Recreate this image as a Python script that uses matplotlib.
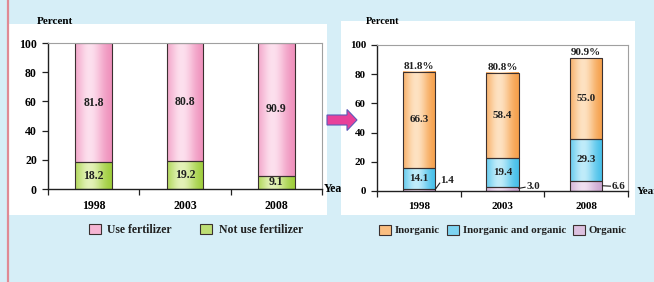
import numpy as np
import matplotlib
matplotlib.use("Agg")
import matplotlib.pyplot as plt
from matplotlib.patches import Rectangle, Patch, FancyArrow
from matplotlib.colors import to_rgb
from matplotlib.lines import Line2D

plt.rcParams['font.family'] = ['Liberation Serif', 'DejaVu Serif']
plt.rcParams['font.weight'] = 'bold'

# ---------------- data ----------------
years = ['1998', '2003', '2008']
use_fert = [81.8, 80.8, 90.9]
not_use_fert = [18.2, 19.2, 9.1]
inorganic = [66.3, 58.4, 55.0]
inorg_org = [14.1, 19.4, 29.3]
organic = [1.4, 3.0, 6.6]
totals = [81.8, 80.8, 90.9]
yticks = [0, 20, 40, 60, 80, 100]

W, H = 654, 282
BG = '#d6eef7'
FS1 = 8.5
FS2 = 7.9
fig = plt.figure(figsize=(W / 100, H / 100), dpi=100, facecolor=BG)

def fx(px):
    return px / W

def fy(py):
    return 1 - py / H

# panels
fig.patches.append(Rectangle((fx(9), fy(215)), fx(318), 191 / H, transform=fig.transFigure,
                             facecolor='white', edgecolor='none', zorder=-2))
fig.patches.append(Rectangle((fx(341), fy(215)), fx(294), 194 / H, transform=fig.transFigure,
                             facecolor='white', edgecolor='none', zorder=0))
fig.lines.append(Line2D([fx(8), fx(8)], [0, 1], transform=fig.transFigure,
                        color='#e08a94', lw=1.6, zorder=5))

# arrow
fig.patches.append(FancyArrow(fx(327), fy(120), fx(30), 0, width=10 / H, head_width=21 / H,
                              head_length=fx(10), length_includes_head=True,
                              transform=fig.transFigure, facecolor='#e8409a',
                              edgecolor='#5a5ab8', lw=0.8, zorder=2))

PAL = {
    'pink': ('#ee8ab8', '#fde0ee'),
    'green': ('#98ca30', '#e4f2b8'),
    'orange': ('#f59a40', '#fee2c2'),
    'blue': ('#3abbe8', '#c0ecfa'),
    'purple': ('#c7a0cc', '#f0e0f1'),
}

def grad(name):
    d, l = (np.array(to_rgb(c)) for c in PAL[name])
    t = np.linspace(0, 1, 80)
    w = np.exp(-((t - 0.4) / 0.38) ** 2)
    rgb = d[None, :] * (1 - w[:, None]) + l[None, :] * w[:, None]
    return rgb[None, :, :]

def mid(name):
    d, l = (np.array(to_rgb(c)) for c in PAL[name])
    return tuple(d * 0.5 + l * 0.5)

def gbars(ax, xs, heights, bottoms, width, name):
    img = grad(name)
    for x, h, b in zip(xs, heights, bottoms):
        ax.imshow(img, extent=(x - width / 2, x + width / 2, b, b + h), aspect='auto',
                  interpolation='bilinear', zorder=1)
    ax.bar(xs, heights, width, bottom=bottoms, facecolor='none', edgecolor='#3a3030',
           lw=0.8, zorder=2)

def style_axes(ax, fs):
    ax.set_xlim(-0.5, 2.5)
    ax.set_ylim(0, 100)
    ax.set_facecolor('none')
    for s in ['top', 'right']:
        ax.spines[s].set_color('#a0a0a0')
        ax.spines[s].set_linewidth(0.8)
    for s in ['left', 'bottom']:
        ax.spines[s].set_color('#202020')
        ax.spines[s].set_linewidth(1.0)
    ax.set_yticks(yticks)
    ax.set_yticklabels([str(v) for v in yticks], fontsize=fs, fontweight='bold')
    ax.tick_params(axis='y', length=4.5, width=0.9, pad=3.5, color='#202020')
    ax.set_xticks([-0.5, 0.5, 1.5, 2.5])
    ax.set_xticklabels([])
    ax.tick_params(axis='x', which='major', length=4, width=0.9, color='#202020', direction='out')
    ax.set_xticks([0, 1, 2], minor=True)
    ax.set_xticklabels(years, minor=True, fontsize=fs, fontweight='bold')
    ax.tick_params(axis='x', which='minor', length=0, pad=8)

x = np.arange(len(years))

# ---------------- left chart ----------------
ax1 = fig.add_axes([fx(48), fy(189), fx(274), 146 / H])
ax1.set_zorder(-1)
gbars(ax1, x, not_use_fert, [0] * 3, 0.405, 'green')
gbars(ax1, x, use_fert, not_use_fert, 0.405, 'pink')
style_axes(ax1, FS1)
for i in range(3):
    ax1.text(x[i], not_use_fert[i] / 2, f'{not_use_fert[i]:.1f}', ha='center', va='center',
             fontsize=FS1, fontweight='bold', color='#202020', zorder=3)
    ax1.text(x[i], not_use_fert[i] + use_fert[i] / 2, f'{use_fert[i]:.1f}', ha='center',
             va='center', fontsize=FS1, fontweight='bold', color='#202020', zorder=3)
ax1.text(1.005, 0, 'Year', transform=ax1.transAxes, ha='left', va='center', fontsize=FS1,
         fontweight='bold', clip_on=False)

# ---------------- right chart ----------------
ax2 = fig.add_axes([fx(377), fy(191), fx(251), 146 / H])
ax2.set_zorder(1)
b2 = [o + io for o, io in zip(organic, inorg_org)]
gbars(ax2, x, organic, [0] * 3, 0.39, 'purple')
gbars(ax2, x, inorg_org, organic, 0.39, 'blue')
gbars(ax2, x, inorganic, b2, 0.39, 'orange')
style_axes(ax2, FS2)
for i in range(3):
    ax2.text(x[i], organic[i] + inorg_org[i] / 2, f'{inorg_org[i]:.1f}', ha='center',
             va='center', fontsize=FS2, fontweight='bold', color='#202020', zorder=3)
    ax2.text(x[i], b2[i] + inorganic[i] / 2, f'{inorganic[i]:.1f}', ha='center',
             va='center', fontsize=FS2, fontweight='bold', color='#202020', zorder=3)
    ax2.text(x[i], totals[i] + 0.6, f'{totals[i]:.1f}%', ha='center', va='bottom',
             fontsize=FS2, fontweight='bold', color='#202020', zorder=3)
# organic leader labels
lab_pos = [(0.26, 7.0), (1.29, 3.4), (2.31, 3.3)]
line_end = [(0.25, 5.4), (1.27, 2.6), (2.29, 3.3)]
for i in range(3):
    ax2.plot([x[i] + 0.195, line_end[i][0]], [organic[i] / 2 + 0.3, line_end[i][1]],
             color='#202020', lw=0.8, zorder=3, clip_on=False)
    ax2.text(lab_pos[i][0], lab_pos[i][1], f'{organic[i]:.1f}', ha='left', va='center',
             fontsize=FS2, fontweight='bold', color='#202020', zorder=3, clip_on=False)
ax2.text(1.035, 0, 'Year', transform=ax2.transAxes, ha='left', va='center', fontsize=FS2,
         fontweight='bold', clip_on=False)

# Percent labels
fig.text(fx(54.5), fy(21.5), 'Percent', ha='center', va='center', fontsize=8, fontweight='bold')
fig.text(fx(383), fy(21.5), 'Percent', ha='center', va='center', fontsize=7.4, fontweight='bold')

# legends
h1 = [Patch(facecolor=mid('pink'), edgecolor='#3a3030', lw=0.8, label='Use fertilizer'),
      Patch(facecolor=mid('green'), edgecolor='#3a3030', lw=0.8, label='Not use fertilizer')]
leg1 = fig.legend(handles=h1, loc='center', bbox_to_anchor=(fx(196), fy(230)), ncol=2,
                  frameon=False, fontsize=FS1, handlelength=1.0, handleheight=1.0,
                  handletextpad=0.55, columnspacing=2.4)
h2 = [Patch(facecolor=mid('orange'), edgecolor='#3a3030', lw=0.8, label='Inorganic'),
      Patch(facecolor=mid('blue'), edgecolor='#3a3030', lw=0.8, label='Inorganic and organic'),
      Patch(facecolor=mid('purple'), edgecolor='#3a3030', lw=0.8, label='Organic')]
leg2 = fig.legend(handles=h2, loc='center', bbox_to_anchor=(fx(503), fy(230)), ncol=3,
                  frameon=False, fontsize=7.8, handlelength=1.1, handleheight=1.1,
                  handletextpad=0.35, columnspacing=0.65)
for lg in (leg1, leg2):
    lg.set_zorder(4)
    for t in lg.get_texts():
        t.set_fontweight('bold')
        t.set_color('#202020')

fig.savefig('out.png', dpi=100, facecolor=BG)
